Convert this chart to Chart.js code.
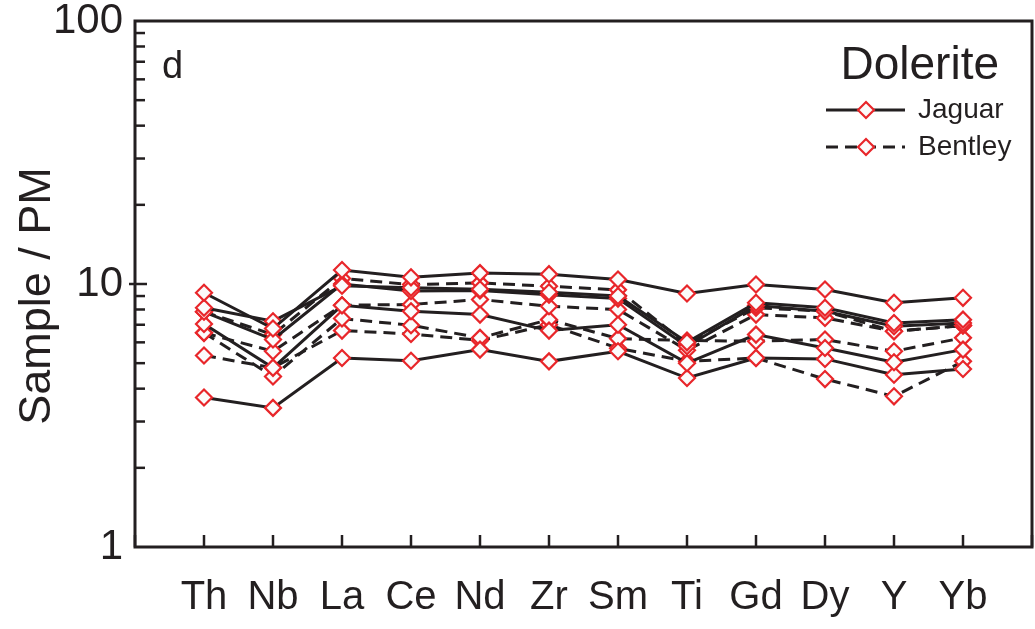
<!DOCTYPE html>
<html>
<head>
<meta charset="utf-8">
<script src="https://cdn.jsdelivr.net/npm/chart.js@4.4.0/dist/chart.umd.min.js"></script>
<style>
  html, body { margin: 0; padding: 0; background: #fff; }
</style>
</head>
<body>
<canvas id="chart" width="1035" height="629"></canvas>
<script>
// Elements, primitive-mantle normalised
const elements = ['Th', 'Nb', 'La', 'Ce', 'Nd', 'Zr', 'Sm', 'Ti', 'Gd', 'Dy', 'Y', 'Yb'];

// Jaguar (solid)
const jaguar1 = [9.26, 6.77, 11.3, 10.6, 11.0, 10.9, 10.4, 9.2, 9.96, 9.53, 8.48, 8.86];
const jaguar2 = [8.12, 7.22, 9.85, 9.67, 9.55, 9.3, 9.0, 6.0, 8.48, 8.12, 7.11, 7.32];
const jaguar3 = [7.84, 6.15, 10.0, 9.4, 9.45, 9.1, 8.8, 5.8, 8.28, 7.88, 6.91, 7.11];
const jaguar4 = [7.05, 4.80, 8.30, 7.88, 7.65, 6.65, 7.0, 5.0, 6.42, 5.71, 5.04, 5.63];
const jaguar5 = [3.70, 3.38, 5.23, 5.11, 5.63, 5.08, 5.55, 4.39, 5.23, 5.19, 4.52, 4.75];

// Bentley (dashed)
const bentley1 = [7.84, 6.42, 10.5, 9.95, 10.1, 9.81, 9.5, 5.9, 8.12, 7.88, 6.61, 6.95];
const bentley2 = [6.52, 5.55, 8.30, 8.36, 8.73, 8.23, 8.0, 5.6, 7.65, 7.43, 6.61, 6.95];
const bentley3 = [6.52, 4.45, 7.39, 6.97, 6.24, 7.32, 6.2, 6.1, 6.06, 6.15, 5.55, 6.24];
const bentley4 = [5.35, 4.80, 6.65, 6.46, 6.1, 7.0, 5.7, 5.08, 5.23, 4.35, 3.74, 5.08];

const yLabels = [1, 10, 100];

const INK = '#231f20';
const RED = '#e8262a';
const FONT = "'Liberation Sans', Arial, sans-serif";
const DASH = [12, 7];

function makeSet(label, values, dashed) {
  return {
    label: label,
    data: values.map((v, i) => ({ x: i, y: v })),
    borderColor: INK,
    borderWidth: 3,
    borderDash: dashed ? DASH : [],
    pointStyle: 'rectRot',
    pointRadius: 8,
    pointBorderColor: RED,
    pointBorderWidth: 2.2,
    pointBackgroundColor: '#fbfbfb',
    tension: 0,
    fill: false
  };
}

// Frame, inward ticks, axis title, panel letter and legend
const decorPlugin = {
  id: 'decor',
  afterDraw(chart) {
    const { ctx, chartArea: a, scales: { x, y } } = chart;
    ctx.save();
    ctx.strokeStyle = INK;
    ctx.lineWidth = 3;
    ctx.setLineDash([]);
    ctx.strokeRect(a.left, a.top, a.right - a.left, a.bottom - a.top);

    // y minor ticks pointing in
    ctx.lineWidth = 2.5;
    [2, 3, 4, 5, 6, 7, 8, 9, 20, 30, 40, 50, 60, 70, 80, 90].forEach(v => {
      const py = y.getPixelForValue(v);
      ctx.beginPath();
      ctx.moveTo(a.left, py);
      ctx.lineTo(a.left + 10, py);
      ctx.stroke();
    });
    const p10 = y.getPixelForValue(10);
    ctx.beginPath();
    ctx.moveTo(a.left - 6, p10);
    ctx.lineTo(a.left + 12, p10);
    ctx.stroke();

    // x ticks pointing up
    for (let i = -1; i <= 12; i++) {
      const px = x.getPixelForValue(i);
      ctx.beginPath();
      ctx.moveTo(px, a.bottom);
      ctx.lineTo(px, a.bottom - 12);
      ctx.stroke();
    }

    ctx.fillStyle = INK;

    // y axis title
    ctx.save();
    ctx.translate(38, 296);
    ctx.rotate(-Math.PI / 2);
    ctx.font = '45px ' + FONT;
    ctx.textAlign = 'center';
    ctx.textBaseline = 'middle';
    ctx.fillText('Sample / PM', 0, 0);
    ctx.restore();

    // panel letter
    ctx.font = '38px ' + FONT;
    ctx.textBaseline = 'alphabetic';
    ctx.textAlign = 'left';
    ctx.fillText('d', 162, 78);

    // legend
    ctx.font = '46px ' + FONT;
    ctx.textAlign = 'right';
    ctx.fillText('Dolerite', 999, 79);

    const rows = [['Jaguar', false, 110], ['Bentley', true, 147]];
    rows.forEach(([name, dashed, ly]) => {
      ctx.strokeStyle = INK;
      ctx.lineWidth = 3;
      ctx.setLineDash(dashed ? DASH : []);
      ctx.beginPath();
      ctx.moveTo(826, ly);
      ctx.lineTo(905, ly);
      ctx.stroke();
      ctx.setLineDash([]);
      ctx.beginPath();
      ctx.moveTo(866 - 8, ly);
      ctx.lineTo(866, ly - 8);
      ctx.lineTo(866 + 8, ly);
      ctx.lineTo(866, ly + 8);
      ctx.closePath();
      ctx.fillStyle = '#fbfbfb';
      ctx.fill();
      ctx.strokeStyle = RED;
      ctx.lineWidth = 2.2;
      ctx.stroke();
      ctx.fillStyle = INK;
      ctx.font = '28px ' + FONT;
      ctx.textAlign = 'left';
      ctx.textBaseline = 'middle';
      ctx.fillText(name, 918, ly);
    });
    ctx.restore();
  }
};

const ctx = document.getElementById('chart').getContext('2d');
new Chart(ctx, {
  type: 'line',
  data: {
    datasets: [
      makeSet('Jaguar', jaguar1, false),
      makeSet('Jaguar', jaguar2, false),
      makeSet('Jaguar', jaguar3, false),
      makeSet('Jaguar', jaguar4, false),
      makeSet('Jaguar', jaguar5, false),
      makeSet('Bentley', bentley1, true),
      makeSet('Bentley', bentley2, true),
      makeSet('Bentley', bentley3, true),
      makeSet('Bentley', bentley4, true)
    ]
  },
  options: {
    responsive: false,
    animation: false,
    layout: { autoPadding: false, padding: { top: 21, right: 3, left: 0, bottom: 0 } },
    plugins: {
      legend: { display: false },
      tooltip: { enabled: false }
    },
    scales: {
      x: {
        type: 'linear',
        min: -1,
        max: 12,
        grid: { display: false, drawTicks: false },
        border: { display: false },
        ticks: {
          stepSize: 1,
          autoSkip: false,
          maxRotation: 0,
          padding: 27,
          color: INK,
          font: { family: FONT, size: 40 },
          callback: v => elements[v] || ''
        },
        afterFit: s => { s.height = 82; s.paddingLeft = 0; s.paddingRight = 0; }
      },
      y: {
        type: 'logarithmic',
        min: 1,
        max: 100,
        grid: { display: false, drawTicks: false },
        border: { display: false },
        ticks: {
          padding: 12,
          color: INK,
          autoSkip: false,
          font: { family: FONT, size: 42 },
          callback: v => yLabels.includes(v) ? String(v) : ''
        },
        afterFit: s => { s.width = 135; s.paddingTop = 0; s.paddingBottom = 0; }
      }
    }
  },
  plugins: [decorPlugin]
});
</script>
</body>
</html>
